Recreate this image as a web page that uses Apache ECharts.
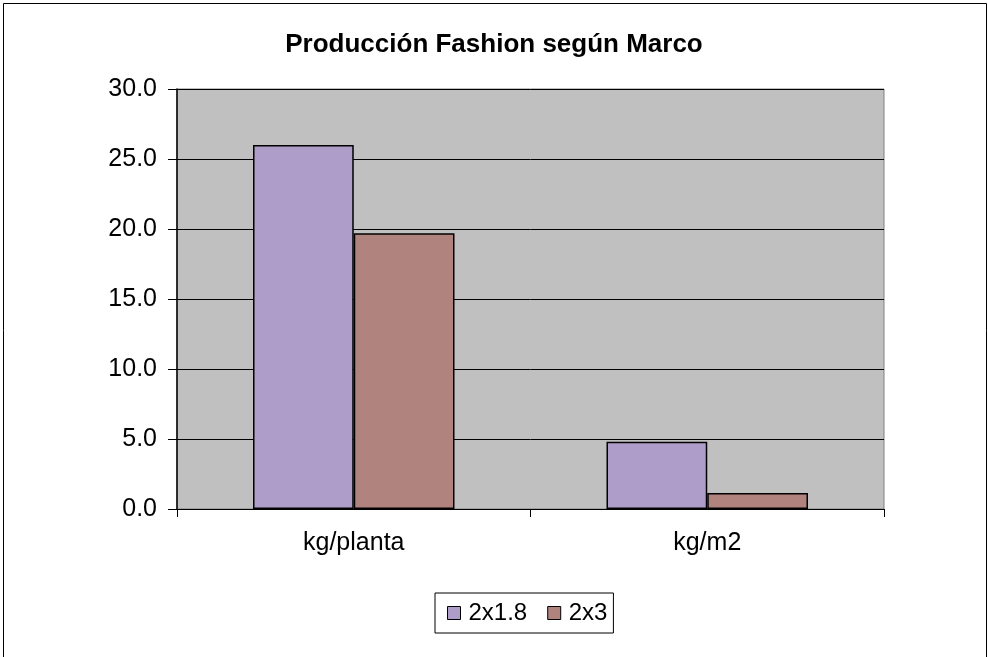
<!DOCTYPE html>
<html>
<head>
<meta charset="utf-8">
<script src="https://cdn.jsdelivr.net/npm/echarts@6/dist/echarts.min.js"></script>
<style>
  body { margin: 0; background: #fff; }
  #chart { width: 988px; height: 657px; }
</style>
</head>
<body>
<div id="chart"></div>
<script type="text/javascript">
    var categories = ['kg/planta', 'kg/m2'];
    var seriesNames = ['2x1.8', '2x3'];
    var serie1 = [26.0, 4.8];
    var serie2 = [19.7, 1.15];
    var colors = ['#AF9DC9', '#B1837E'];

    var myChart = echarts.init(document.getElementById('chart'));
    var font = 'Arial, "Liberation Sans", sans-serif';

    var option = {
        animation: false,
        color: colors,
        textStyle: { fontFamily: font },
        title: {
            text: 'Producción Fashion según Marco',
            left: 'center',
            top: 27,
            textStyle: { fontSize: 26, fontWeight: 'bold', color: '#000', fontFamily: font }
        },
        legend: {
            data: seriesNames,
            left: 435,
            top: 593,
            padding: [8, 6, 8, 12],
            itemGap: 20,
            itemWidth: 13,
            itemHeight: 13,
            icon: 'rect',
            borderColor: '#000',
            borderWidth: 1,
            itemStyle: { borderColor: '#000', borderWidth: 1 },
            textStyle: { fontSize: 24, color: '#000', fontFamily: font, padding: [0, 0, 0, 3] }
        },
        grid: {
            left: 177,
            top: 89,
            right: 104,
            bottom: 148,
            show: true,
            backgroundColor: '#C0C0C0',
            borderColor: '#808080',
            borderWidth: 1
        },
        xAxis: {
            type: 'category',
            data: categories,
            axisLine: { lineStyle: { color: '#000', width: 1 } },
            axisTick: { show: true, length: 8, lineStyle: { color: '#000' } },
            axisLabel: { fontSize: 25, color: '#000', margin: 22 }
        },
        yAxis: {
            type: 'value',
            min: 0,
            max: 30,
            interval: 5,
            axisLine: { show: true, lineStyle: { color: '#000', width: 1.5 } },
            axisTick: { show: true, length: 9, lineStyle: { color: '#000' } },
            axisLabel: {
                fontSize: 25, color: '#000', margin: 20,
                formatter: function (v) { return v.toFixed(1); }
            },
            splitLine: { lineStyle: { color: '#000', width: 1 } }
        },
        series: [{
            name: seriesNames[0],
            type: 'bar',
            data: serie1,
            barGap: '0%',
            barCategoryGap: '43%',
            itemStyle: { color: colors[0], borderColor: '#000', borderWidth: 1.5 }
        }, {
            name: seriesNames[1],
            type: 'bar',
            data: serie2,
            itemStyle: { color: colors[1], borderColor: '#000', borderWidth: 1.5 }
        }],
        graphic: [{
            type: 'rect',
            shape: { x: 3.5, y: 3.5, width: 983, height: 680 },
            style: { fill: null, stroke: '#000', lineWidth: 1 },
            silent: true
        }]
    };

    myChart.setOption(option);
</script>
</body>
</html>
